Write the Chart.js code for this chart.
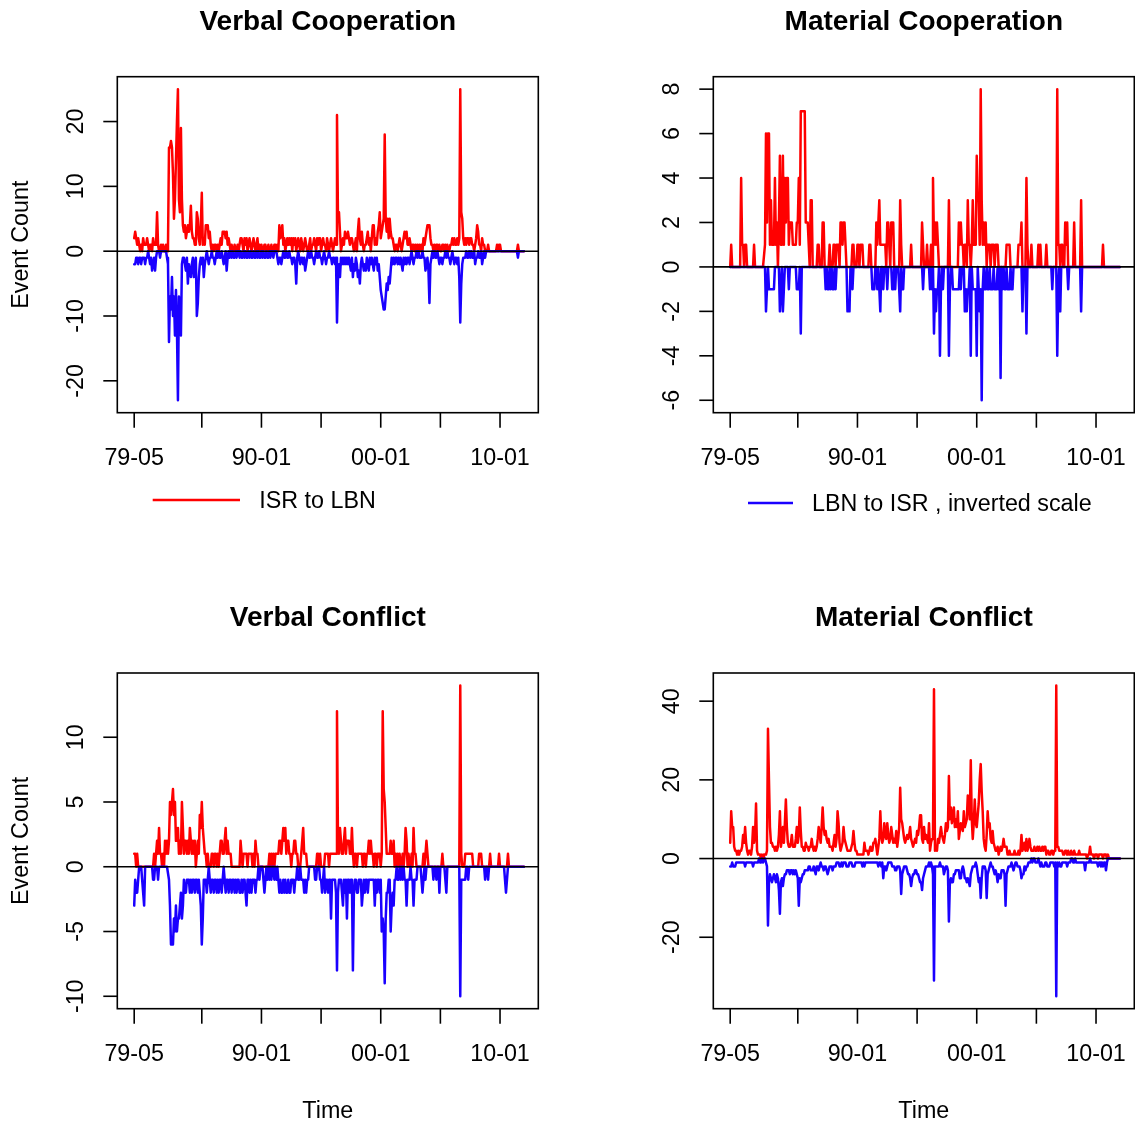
<!DOCTYPE html>
<html>
<head>
<meta charset="utf-8">
<title>ISR - LBN event counts</title>
<script src="https://cdn.jsdelivr.net/npm/chart.js@4.4.1/dist/chart.umd.min.js"></script>
<style>
  html, body { margin: 0; padding: 0; background: #fff; }
  #wrap { position: relative; width: 1135px; height: 1122px; overflow: hidden; }
  canvas { position: absolute; }
</style>
</head>
<body>
<div id="wrap">
  <canvas id="vcoop" width="567" height="596" style="left:0;top:0"></canvas>
  <canvas id="mcoop" width="539" height="596" style="left:596px;top:0"></canvas>
  <canvas id="vconf" width="567" height="526" style="left:0;top:596px"></canvas>
  <canvas id="mconf" width="539" height="526" style="left:596px;top:596px"></canvas>
</div>
<script>
// monthly counts, 1979-05 .. 2012-01 (one row = 12 months, May..Apr)
const xTickMonths = [0, 68, 128, 188, 248, 308, 368];
const xTickLabels = ["79-05", "", "90-01", "", "00-01", "", "10-01"];

// ================= VERBAL COOPERATION =================
const vcoopIsr = [
  2,3,2,1,2,1,0,1,0,2,1,1, 1,2,1,0,1,1,0,2,1,1,1,6, 1,0,0,1,0,1,0,0,1,0,1,16,
  16,17,16,12,5,8,14,20,25,8,6,19, 8,4,3,4,2,3,4,3,4,7,3,2, 2,1,1,6,5,2,1,4,9,1,2,1,
  4,4,4,2,3,1,0,1,0,1,1,0, 1,0,1,2,1,3,3,3,2,3,1,2, 1,0,1,0,0,1,0,0,1,0,1,2,
  2,1,0,2,1,2,0,1,2,1,0,1, 2,1,0,1,2,0,1,0,1,0,0,1, 1,0,0,1,0,0,1,0,0,1,1,0,
  1,0,4,2,3,4,1,2,0,1,2,1, 2,1,2,0,2,1,2,0,1,2,1,0, 2,1,0,1,2,1,0,0,1,2,0,1,
  1,2,1,0,2,1,2,2,0,1,2,1, 1,0,2,1,0,1,2,1,0,1,2,1, 21,5,6,3,0,1,2,1,3,2,2,3,
  2,1,2,2,1,0,1,2,0,3,5,2, 1,3,1,0,1,1,2,3,1,2,0,2, 4,4,1,2,1,3,4,6,2,3,4,5,
  18,5,3,5,2,5,3,2,2,1,0,1, 1,0,1,2,1,0,1,2,3,2,3,1, 1,2,1,0,1,1,0,1,0,1,0,1,
  0,1,0,2,1,2,3,4,4,4,2,1, 1,0,1,0,1,1,0,1,0,0,1,1, 0,1,0,1,0,0,1,1,2,1,2,1,
  1,2,1,2,25,6,5,2,1,2,1,2, 2,1,2,2,1,1,0,1,2,4,3,1, 1,0,2,1,1,0,0,0,1,0,0,0,
  0,0,0,0,0,1,0,1,1,0,0,0, 0,0,0,0,0,0,0,0,0,0,0,0, 0,0,1,0,0,0,0,0,0
];
const vcoopLbn = [
  2,2,1,1,2,1,1,2,1,1,1,2, 1,1,0,1,2,1,3,2,1,3,1,0, 0,0,1,0,0,0,0,0,0,1,2,14,
  7,9,4,10,7,13,6,12,23,7,10,13, 2,1,1,2,3,1,5,2,3,4,2,1, 4,2,1,10,8,4,2,1,2,1,4,2,
  1,0,1,2,1,1,0,1,1,2,1,0, 1,0,1,1,0,1,2,1,0,3,1,0, 1,0,1,0,1,1,0,1,0,0,1,0,
  1,1,0,1,0,1,1,0,1,0,1,1, 0,1,1,0,1,0,1,1,0,1,0,1, 1,0,1,1,0,1,0,0,1,0,0,0,
  1,2,1,1,2,1,0,1,1,0,1,1, 0,1,1,2,1,1,2,5,1,0,1,2, 1,1,2,1,3,2,1,0,1,1,0,1,
  1,2,1,0,1,1,0,1,1,2,1,0, 1,2,1,1,0,1,1,2,1,1,2,1, 11,4,2,4,1,2,1,2,1,2,1,2,
  1,2,3,1,4,2,3,1,2,4,3,5, 2,1,2,3,2,3,1,2,3,1,2,1, 2,3,1,2,1,3,2,4,6,7,8,9,
  9,7,5,6,4,5,3,1,2,1,2,1, 1,2,1,2,1,2,3,1,2,1,2,1, 1,2,1,0,1,2,1,1,0,1,0,1,
  1,1,0,1,1,3,2,1,3,8,2,1, 0,1,0,1,1,0,1,2,1,1,2,1, 1,0,1,0,1,1,2,1,0,1,2,1,
  1,2,1,4,11,5,2,1,1,1,0,1, 1,0,1,0,1,1,0,2,1,1,0,1, 1,0,2,1,0,1,0,0,0,0,0,0,
  0,0,0,0,0,0,0,0,0,0,0,0, 0,0,0,0,0,0,0,0,0,0,0,0, 0,0,1,0,0,0,0,0,0
];

// ================= MATERIAL COOPERATION =================
const mcoopIsr = [
  0,1,0,0,0,0,0,0,0,0,0,4, 1,1,0,1,1,0,0,0,0,0,0,0, 1,0,0,0,0,0,0,0,0,0,0,1,
  6,2,6,6,1,3,1,1,1,4,1,2, 0,2,5,1,1,5,1,4,2,4,4,1, 2,2,2,1,1,1,1,2,2,4,1,7,
  7,7,7,7,2,2,2,1,0,3,3,0, 0,0,0,0,1,1,0,0,0,2,2,0, 0,0,0,0,1,0,0,0,1,1,0,1,
  1,1,0,2,2,1,2,2,1,0,0,0, 0,0,0,1,1,0,0,0,1,1,0,1, 1,1,0,0,0,0,0,0,1,1,0,0,
  0,0,0,2,1,2,3,1,1,1,1,1, 1,0,2,2,1,0,2,2,2,0,0,0, 0,0,0,3,1,0,0,0,0,0,0,0,
  0,0,1,0,0,0,0,0,0,0,0,0, 0,2,1,0,0,0,1,0,0,0,1,0, 4,1,2,1,2,1,0,0,0,0,0,0,
  0,0,0,0,3,0,0,0,0,0,0,0, 0,0,2,1,2,1,1,0,1,1,0,3, 1,1,0,1,3,1,1,1,5,3,3,1,
  8,3,1,2,1,2,0,1,1,1,0,1, 1,1,0,1,1,1,0,0,0,0,0,0, 0,0,1,1,1,1,0,0,0,0,0,0,
  0,0,1,1,1,2,0,0,0,0,4,1, 0,0,0,1,0,0,0,0,0,0,1,0, 1,0,0,0,0,0,1,0,0,0,0,0,
  0,0,0,0,0,8,1,1,0,1,1,0, 0,2,1,2,0,0,0,0,0,0,2,0, 0,0,0,0,0,3,0,0,0,0,0,0,
  0,0,0,0,0,0,0,0,0,0,0,0, 0,0,0,1,0,0,0,0,0,0,0,0, 0,0,0,0,0,0,0,0,0
];
const mcoopLbn = [
  0,0,0,0,0,0,0,0,0,0,0,0, 0,0,0,0,0,0,0,0,0,0,0,0, 0,0,0,0,0,0,0,0,0,0,0,0,
  2,1,0,1,1,1,1,1,1,0,0,0, 0,0,2,1,0,2,1,0,0,0,0,1, 0,0,0,0,0,0,0,1,1,1,0,3,
  0,0,0,0,0,0,0,0,0,0,0,0, 0,0,0,0,0,0,0,0,0,0,0,0, 1,0,1,1,0,1,0,1,1,0,1,0,
  0,0,0,0,0,0,0,0,0,0,2,2, 2,0,0,1,0,0,0,0,0,0,0,0, 0,0,0,0,0,0,0,0,0,0,0,1,
  1,1,0,0,1,0,1,2,0,0,1,0, 0,0,1,0,0,0,0,1,1,0,1,0, 0,0,1,2,0,1,1,0,0,0,0,0,
  0,0,0,0,0,0,0,0,0,0,0,0, 0,0,1,0,0,0,0,0,0,1,0,1, 0,3,1,2,1,1,0,4,1,0,1,0,
  0,0,0,0,4,1,0,0,1,1,1,1, 1,1,1,0,1,0,0,0,2,1,2,1, 1,0,4,0,1,1,1,1,4,0,1,2,
  1,6,1,0,1,1,0,1,1,0,1,1, 1,0,1,1,1,0,1,0,5,0,1,0, 1,1,0,1,1,1,0,1,1,0,0,0,
  0,0,0,0,0,0,2,0,0,0,3,0, 0,0,0,0,0,0,0,0,0,0,0,0, 0,0,0,0,0,0,0,0,0,0,0,0,
  1,0,0,0,0,4,1,0,2,0,0,0, 0,0,0,0,1,0,0,0,0,0,0,0, 0,0,0,0,0,2,0,0,0,0,0,0,
  0,0,0,0,0,0,0,0,0,0,0,0, 0,0,0,0,0,0,0,0,0,0,0,0, 0,0,0,0,0,0,0,0,0
];

// ================= VERBAL CONFLICT =================
const vconfIsr = [
  1,1,0,1,0,0,0,0,0,0,0,0, 0,0,0,0,0,0,0,0,1,0,1,2, 1,3,1,1,0,1,0,2,1,2,1,2,
  5,4,5,6,4,5,2,2,3,1,2,1, 5,3,1,2,2,1,2,1,3,2,1,2, 1,2,0,1,2,1,4,3,5,3,2,1,
  1,0,1,0,0,0,1,1,0,1,1,0, 1,0,1,2,2,1,1,2,3,1,2,1, 1,1,0,0,0,0,0,0,0,0,0,2,
  1,0,1,1,1,1,0,1,1,1,1,0, 1,0,2,1,1,0,0,0,0,0,0,0, 0,0,0,0,1,0,1,0,1,0,1,1,
  1,1,2,2,1,2,3,2,3,1,2,2, 1,1,0,1,1,2,2,1,1,0,0,0, 1,2,3,1,1,1,0,0,0,0,0,0,
  0,0,0,0,1,1,0,1,0,0,0,0, 1,1,1,1,0,1,1,1,1,1,1,1, 12,2,1,3,2,1,1,2,3,1,2,2,
  2,1,1,3,1,0,1,1,0,1,1,1, 1,1,0,1,1,0,1,1,2,1,2,1, 1,0,1,1,0,1,1,1,0,1,12,6,
  5,3,1,1,1,1,2,1,1,2,0,1, 0,1,0,1,0,0,1,0,1,3,2,0, 1,0,0,1,0,3,1,1,0,0,0,0,
  0,0,0,1,0,1,2,1,0,0,0,0, 0,0,0,0,0,0,0,0,0,0,1,0, 0,0,0,0,0,0,0,0,0,0,0,0,
  0,0,0,0,14,1,0,0,0,1,1,1, 1,1,1,1,1,0,0,0,0,0,0,1, 1,1,0,0,0,0,0,0,0,0,1,0,
  0,0,0,0,0,0,0,1,0,0,0,0, 0,0,0,0,1,0,0,0,0,0,0,0, 0,0,0,0,0,0,0,0,0
];
const vconfLbn = [
  3,1,2,2,1,0,0,0,1,2,3,0, 0,0,0,0,0,0,0,1,1,0,0,0, 1,0,0,0,0,0,0,0,0,0,0,1,
  3,6,6,6,4,5,3,5,4,4,3,2, 4,3,1,2,2,1,1,1,2,1,2,1, 1,2,1,1,2,1,2,3,6,4,1,1,
  1,2,1,0,1,2,1,1,2,1,1,2, 1,2,1,1,2,1,0,1,2,1,1,2, 1,1,2,1,1,2,1,2,1,1,2,2,
  1,2,1,1,2,3,1,1,2,1,2,1, 1,1,2,1,1,0,1,0,0,0,1,2, 1,0,1,0,1,0,1,0,0,1,0,1,
  0,1,2,1,2,2,1,2,1,2,2,1, 2,2,1,1,1,2,1,1,0,1,1,0, 1,1,1,2,1,2,1,1,0,0,0,0,
  0,0,1,1,0,0,0,1,1,2,1,0, 2,1,1,2,1,1,4,1,1,1,1,2, 8,2,1,1,1,2,3,1,2,1,4,1,
  1,2,1,1,8,2,1,1,2,2,1,1, 1,3,2,1,2,1,1,2,1,1,1,1, 1,1,3,1,2,1,1,2,1,5,4,5,
  9,4,2,2,1,1,5,3,2,3,1,1, 0,1,1,0,1,0,1,0,1,1,3,1, 1,1,0,1,1,3,1,1,1,0,0,0,
  0,1,2,1,0,1,0,0,0,0,0,0, 0,1,0,0,1,0,0,2,0,0,0,0, 0,1,2,0,0,0,0,0,0,0,0,0,
  0,0,0,0,10,1,1,1,1,1,0,0, 1,0,0,0,0,0,0,0,0,0,0,0, 0,0,0,0,0,1,0,0,1,0,0,0,
  0,0,0,0,0,0,0,0,0,0,0,0, 0,0,2,1,0,0,0,0,0,0,0,0, 0,0,0,0,0,0,0,0,0
];

// ================= MATERIAL CONFLICT =================
const mconfIsr = [
  4,12,8,8,3,2,2,1,2,1,2,2, 3,6,4,8,4,2,1,2,2,1,3,8, 4,6,14,2,1,1,1,0,1,0,1,1,
  1,2,33,20,8,4,4,3,3,2,3,2, 3,6,12,3,5,8,4,9,15,8,4,3, 3,4,6,3,3,3,5,8,4,6,13,7,
  3,3,2,2,4,3,3,2,3,3,5,3, 2,3,2,3,5,8,6,4,8,13,8,6, 7,5,4,5,3,3,3,2,4,6,3,5,
  12,9,4,2,3,4,8,5,4,3,2,2, 2,2,3,4,7,4,2,2,1,1,1,1, 1,1,1,4,2,2,2,1,2,3,2,2,
  4,4,5,3,1,3,5,12,6,4,5,9, 6,5,9,6,4,5,8,6,4,5,4,7, 3,5,8,18,10,9,7,5,4,5,6,5,
  6,8,5,4,3,4,5,4,7,6,8,11, 11,5,4,8,5,6,5,4,9,2,4,5, 6,43,2,3,2,5,4,6,8,6,5,4,
  6,9,7,8,21,10,13,9,11,13,8,10, 8,12,5,7,9,8,7,12,8,9,10,16, 14,10,25,10,5,9,15,9,8,11,14,20,
  24,17,12,5,3,2,6,12,8,9,5,4, 7,4,3,2,2,3,1,2,3,2,3,5, 3,3,3,1,1,2,1,1,1,1,2,1,
  1,1,2,1,2,6,2,3,4,2,5,2, 3,5,3,2,2,2,3,2,2,3,2,3, 2,2,3,2,3,3,1,2,2,1,1,2,
  2,1,2,2,44,3,3,2,2,2,2,1, 1,2,2,1,2,1,1,2,1,1,2,1, 1,1,1,2,1,1,1,1,1,1,1,0,
  1,1,3,1,1,1,0,1,1,1,0,1, 1,1,1,0,1,1,1,0,1,0,0,0, 0,0,0,0,0,0,0,0,0
];
const mconfLbn = [
  2,2,1,2,2,2,1,1,1,1,1,1, 1,1,1,2,1,1,1,1,1,1,1,2, 1,1,1,1,1,0,1,1,0,1,1,0,
  1,2,17,6,4,5,6,5,4,5,6,4, 5,8,14,6,5,7,5,4,4,3,3,3, 4,3,3,4,3,4,3,4,5,12,5,6,
  5,4,4,3,3,3,3,2,2,3,3,3, 2,3,4,2,2,3,2,1,2,2,3,2, 2,3,4,3,2,2,2,3,2,2,2,1,
  1,1,2,2,1,2,1,1,1,2,2,2, 1,1,1,2,2,2,1,1,1,1,1,1, 1,2,1,2,1,1,1,1,1,1,1,1,
  1,1,1,1,1,2,1,1,2,1,5,2, 2,3,2,1,1,1,1,2,2,2,3,3, 2,2,2,3,9,4,3,2,2,2,3,4,
  4,5,7,5,4,4,3,3,4,4,5,6, 6,8,5,4,3,2,2,2,1,2,1,2, 4,31,2,2,2,2,2,1,2,2,2,4,
  3,2,2,3,16,6,5,6,6,4,4,3, 3,3,3,5,5,3,2,3,5,5,6,5, 6,7,4,3,2,2,2,1,2,4,6,5,
  10,5,2,2,2,3,10,4,3,2,1,2, 2,3,4,3,4,6,4,5,5,3,3,3, 4,12,4,3,2,2,2,1,2,3,2,1,
  1,2,2,2,3,5,4,4,2,3,2,2, 1,1,1,0,1,0,0,1,1,1,0,1, 2,1,2,2,2,1,1,2,2,2,1,1,
  1,1,2,1,35,1,2,1,2,2,1,1, 1,1,1,2,1,1,1,0,0,1,1,0, 1,1,1,1,1,1,1,1,1,3,1,1,
  1,1,0,1,1,1,1,1,1,1,2,1, 1,2,1,2,1,1,3,1,0,0,0,0, 0,0,0,0,0,0,0,0,0
];

const RED = "#ff0000";
const BLUE = "#1a00ff";
const FONT = '"Liberation Sans", Arial, Helvetica, sans-serif';
const X_MIN = -17;
const X_MAX = 406.5;

// draws the R-style frame, ticks, labels, zero line and legend
const rFrame = {
    id: "rFrame",
    afterDraw(chart, args, o) {
        const ctx = chart.ctx;
        const a = chart.chartArea;
        const x = chart.scales.x;
        const y = chart.scales.y;
        const seg = (x1, y1, x2, y2) => {
            ctx.beginPath();
            ctx.moveTo(x1, y1);
            ctx.lineTo(x2, y2);
            ctx.stroke();
        };
        ctx.save();
        ctx.strokeStyle = "#000";
        ctx.fillStyle = "#000";

        // h = 0
        ctx.lineWidth = 1.6;
        const y0 = y.getPixelForValue(0);
        seg(a.left, y0, a.right, y0);

        // box
        ctx.lineWidth = 1.6;
        ctx.strokeRect(a.left, a.top, a.right - a.left, a.bottom - a.top);

        // x axis
        ctx.font = "23.3px " + FONT;
        ctx.textAlign = "center";
        ctx.textBaseline = "alphabetic";
        xTickMonths.forEach(function (m, k) {
            const px = x.getPixelForValue(m);
            seg(px, a.bottom, px, a.bottom + 15);
            if (xTickLabels[k]) ctx.fillText(xTickLabels[k], px, a.bottom + 52.3);
        });

        // y axis
        o.yTicks.forEach(function (v) {
            const py = y.getPixelForValue(v);
            seg(a.left - 14, py, a.left, py);
            ctx.save();
            ctx.translate(a.left - 34, py);
            ctx.rotate(-Math.PI / 2);
            ctx.fillText(String(v), 0, 0);
            ctx.restore();
        });

        const cx = (a.left + a.right) / 2;
        if (o.yTitle) {
            ctx.save();
            ctx.translate(a.left - 89, (a.top + a.bottom) / 2);
            ctx.rotate(-Math.PI / 2);
            ctx.fillText(o.yTitle, 0, 0);
            ctx.restore();
        }
        if (o.xTitle) ctx.fillText(o.xTitle, cx, a.bottom + 108.8);

        // legend
        if (o.legend) {
            const L = o.legend;
            ctx.strokeStyle = L.color;
            ctx.lineWidth = 2.5;
            seg(L.x1, L.y, L.x2, L.y);
            ctx.textAlign = "left";
            ctx.fillText(L.text, L.tx, L.y + 8.3);
            ctx.textAlign = "center";
        }

        // title
        ctx.font = "bold 28px " + FONT;
        ctx.fillText(o.title, cx, a.top - 46.7);
        ctx.restore();
    }
};

function makePanel(id, isr, lbn, cfg) {
    const up = isr.map((v, i) => ({ x: i, y: v }));
    const down = lbn.map((v, i) => ({ x: i, y: -v }));
    const hi = Math.max.apply(null, isr);
    const lo = -Math.max.apply(null, lbn);
    const pad = (hi - lo) * 0.04;
    const canvas = document.getElementById(id);

    new Chart(canvas, {
        type: "line",
        data: {
            datasets: [
                { label: "ISR to LBN", data: up, borderColor: RED, order: 2 },
                { label: "LBN to ISR , inverted scale", data: down, borderColor: BLUE, order: 1 }
            ]
        },
        options: {
            responsive: false,
            animation: false,
            events: [],
            layout: {
                padding: {
                    left: 117.3,
                    top: cfg.top,
                    right: canvas.width - 538.3,
                    bottom: canvas.height - cfg.bottom
                }
            },
            elements: {
                point: { radius: 0 },
                line: { borderWidth: 2.5, tension: 0, borderJoinStyle: "round", borderCapStyle: "round", fill: false }
            },
            plugins: {
                legend: { display: false },
                tooltip: { enabled: false },
                rFrame: cfg
            },
            scales: {
                x: { type: "linear", display: false, min: X_MIN, max: X_MAX },
                y: { type: "linear", display: false, min: lo - pad, max: hi + pad }
            }
        },
        plugins: [rFrame]
    });
}

makePanel("vcoop", vcoopIsr, vcoopLbn, {
    title: "Verbal Cooperation", top: 76.7, bottom: 412.7,
    yTicks: [-20, -10, 0, 10, 20], yTitle: "Event Count",
    legend: { color: RED, x1: 152.7, x2: 240, y: 500, tx: 259.3, text: "ISR to LBN" }
});
makePanel("mcoop", mcoopIsr, mcoopLbn, {
    title: "Material Cooperation", top: 76.7, bottom: 412.7,
    yTicks: [-6, -4, -2, 0, 2, 4, 6, 8],
    legend: { color: BLUE, x1: 152, x2: 197, y: 503, tx: 216, text: "LBN to ISR , inverted scale" }
});
makePanel("vconf", vconfIsr, vconfLbn, {
    title: "Verbal Conflict", top: 77, bottom: 412.7,
    yTicks: [-10, -5, 0, 5, 10], yTitle: "Event Count", xTitle: "Time"
});
makePanel("mconf", mconfIsr, mconfLbn, {
    title: "Material Conflict", top: 77, bottom: 412.7,
    yTicks: [-20, 0, 20, 40], xTitle: "Time"
});
</script>
</body>
</html>
